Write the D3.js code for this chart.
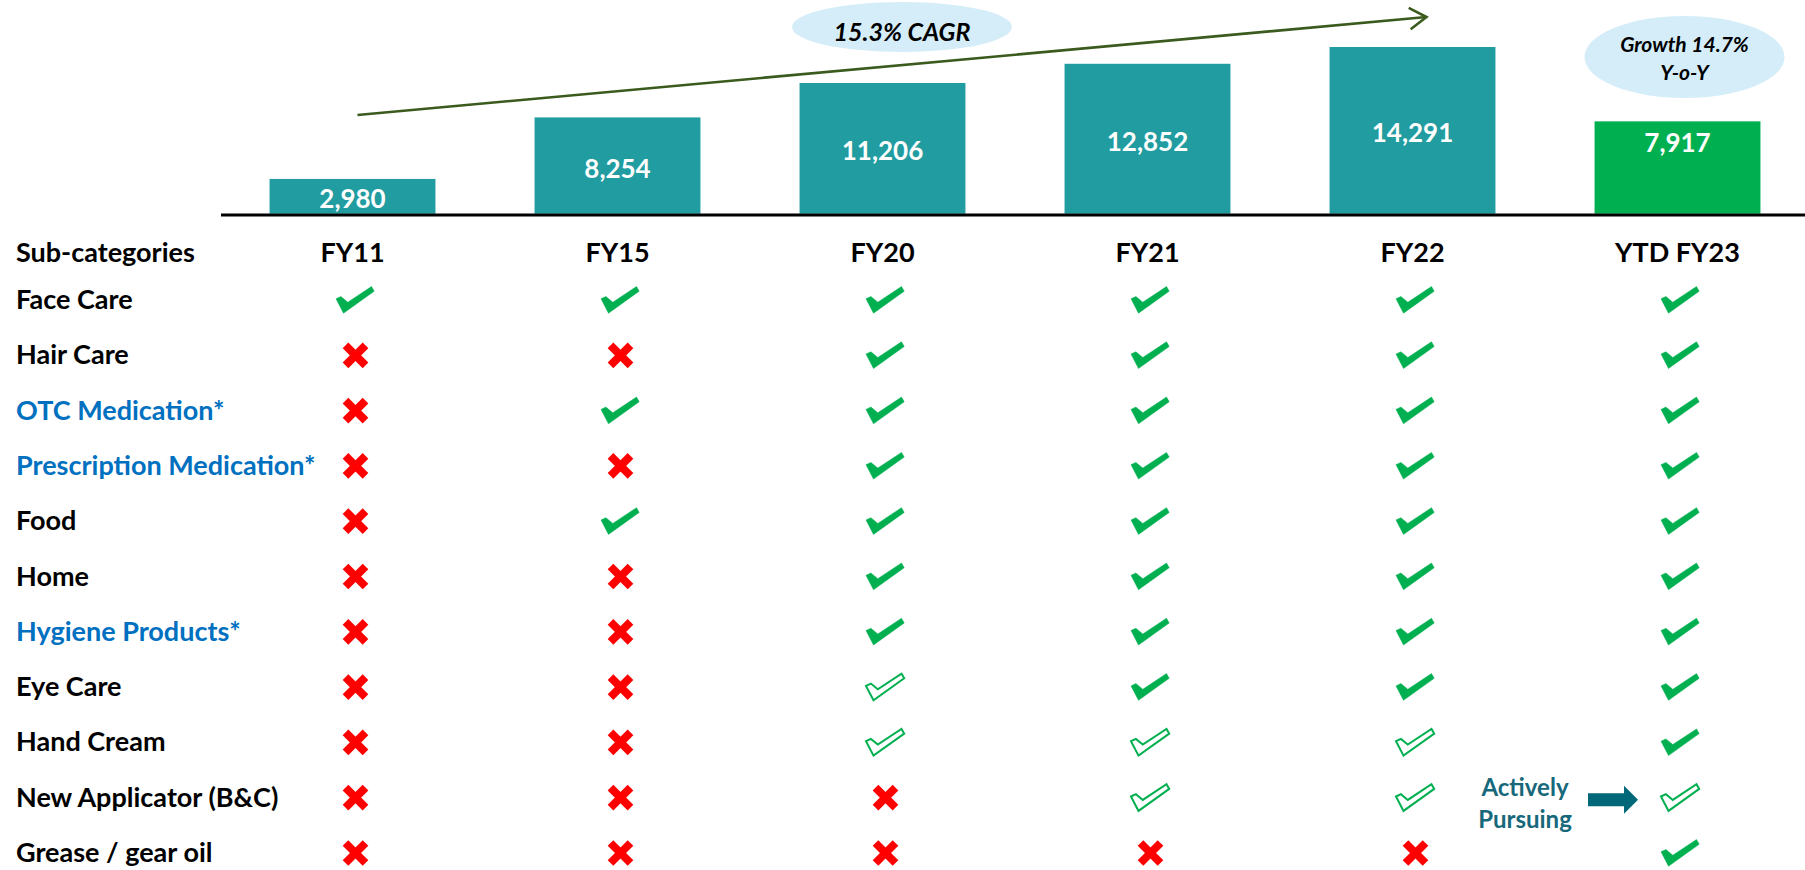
<!DOCTYPE html>
<html>
<head>
<meta charset="utf-8">
<script src="https://cdn.jsdelivr.net/npm/d3@7"></script>
<style>
  body { margin: 0; background: #fff; }
  svg { display: block; font-family: Lato, "Open Sans", sans-serif; font-weight: bold; }
</style>
</head>
<body>
<div id="chart"></div>
<script>
const width = 1805
const height = 870

// data
const years = ['FY11', 'FY15', 'FY20', 'FY21', 'FY22', 'YTD FY23']
const revenue = [2980, 8254, 11206, 12852, 14291, 7917]
const subCategories = ['Face Care', 'Hair Care', 'OTC Medication*', 'Prescription Medication*', 'Food', 'Home',
    'Hygiene Products*', 'Eye Care', 'Hand Cream', 'New Applicator (B&C)', 'Grease / gear oil']
const highlighted = ['OTC Medication*', 'Prescription Medication*', 'Hygiene Products*']
// one letter per year: C = offered, O = in progress (outline tick), X = not offered
const status = [
    'CCCCCC',
    'XXCCCC',
    'XCCCCC',
    'XXCCCC',
    'XCCCCC',
    'XXCCCC',
    'XXCCCC',
    'XXOCCC',
    'XXOOOC',
    'XXXOOO',
    'XXXXXC'
]
const headerLabel = 'Sub-categories'
const cagrLabel = '15.3% CAGR'
const growthLabel = ['Growth 14.7%', 'Y-o-Y']
const pursuingLabel = ['Actively', 'Pursuing']

const colors = {
    bar: '#219ca0',
    ytd: '#00b050',
    tick: '#00b050',
    cross: '#ff0000',
    blue: '#0070c0',
    trend: '#3a5a1e',
    bubble: '#d4edf8',
    pursue: '#17687a',
    pursueArrow: '#006878'
}

let svg = d3.select('div#chart').append('svg').attr('width', width).attr('height', height)

let x = d3.scaleBand().domain(years).range([220, 1810]).paddingInner(0.374).paddingOuter(0.187)
let y = d3.scaleLinear().domain([0, d3.max(revenue)]).range([213.7, 47])
let rowY = d3.scalePoint().domain(subCategories).range([299, 852])
let cx = d => x(d) + x.bandwidth() / 2

// bars
let barGroup = svg.append('g').attr('id', 'barGroup')
let bars = years.map((d, i) => ({year: d, value: revenue[i], last: i === years.length - 1}))
barGroup.selectAll('rect').data(bars).join('rect')
    .attr('x', d => x(d.year))
    .attr('y', d => y(d.value))
    .attr('width', x.bandwidth())
    .attr('height', d => y(0) - y(d.value))
    .attr('fill', d => d.last ? colors.ytd : colors.bar)

barGroup.selectAll('text').data(bars).join('text')
    .attr('x', d => cx(d.year))
    .attr('y', d => d.last ? y(d.value) + 31 : (y(d.value) + y(0)) / 2 + 12)
    .attr('text-anchor', 'middle')
    .attr('fill', '#fff')
    .style('font-size', '26px')
    .text(d => d3.format(',')(d.value))

// baseline
svg.append('line')
    .attr('x1', 221).attr('x2', width)
    .attr('y1', y(0) + 1.2).attr('y2', y(0) + 1.2)
    .attr('stroke', '#000').attr('stroke-width', 3)

// CAGR trend arrow
let trendStart = [cx('FY11') + 5, 115]
let trendEnd = [cx('FY22') + 14, 17]
let trend = svg.append('g').attr('id', 'trend')
trend.append('line')
    .attr('x1', trendStart[0]).attr('y1', trendStart[1])
    .attr('x2', trendEnd[0]).attr('y2', trendEnd[1])
    .attr('stroke', colors.trend).attr('stroke-width', 2.6)
let ang = Math.atan2(trendEnd[1] - trendStart[1], trendEnd[0] - trendStart[0])
let head = [ang + Math.PI * 0.82, ang - Math.PI * 0.82].map(a => [trendEnd[0] + 20 * Math.cos(a), trendEnd[1] + 20 * Math.sin(a)])
trend.append('path')
    .attr('d', d3.line()([head[0], trendEnd, head[1]]))
    .attr('fill', 'none').attr('stroke', colors.trend).attr('stroke-width', 2.6)

// bubbles
svg.append('ellipse').attr('cx', 902).attr('cy', 27).attr('rx', 110).attr('ry', 25).attr('fill', colors.bubble)
svg.append('text').attr('x', 902).attr('y', 40.5).attr('text-anchor', 'middle')
    .style('font-size', '25px').style('font-style', 'italic').text(cagrLabel)

svg.append('ellipse').attr('cx', cx('YTD FY23') + 7).attr('cy', 57).attr('rx', 100).attr('ry', 41).attr('fill', colors.bubble)
svg.append('g').selectAll('text').data(growthLabel).join('text')
    .attr('x', cx('YTD FY23') + 7)
    .attr('y', (d, i) => 52 + i * 28)
    .attr('text-anchor', 'middle')
    .style('font-size', '21px').style('font-style', 'italic')
    .text(d => d)

// header row
let headerY = 262
svg.append('text').attr('x', 16).attr('y', headerY).style('font-size', '27px').text(headerLabel)
svg.append('g').selectAll('text').data(years).join('text')
    .attr('x', d => cx(d)).attr('y', headerY)
    .attr('text-anchor', 'middle').style('font-size', '27px')
    .text(d => d)

// row labels
svg.append('g').selectAll('text').data(subCategories).join('text')
    .attr('x', 16).attr('y', d => rowY(d) + 10)
    .attr('fill', d => highlighted.includes(d) ? colors.blue : '#000')
    .style('font-size', '27px')
    .text(d => d)

// status icons
const tickShape = [[0, 12.3], [4.9, 10], [11.8, 15.7], [35.5, 0], [38.2, 4.7], [7.5, 26.7]]
    .map(p => [p[0] - 19.5, p[1] - 13.5])
let cells = []
subCategories.forEach((s, r) => {
    years.forEach((yr, c) => cells.push({row: s, year: yr, code: status[r][c]}))
})
let icons = svg.append('g').attr('id', 'icons').selectAll('g').data(cells).join('g')
    .attr('transform', d => `translate(${cx(d.year) + 3}, ${rowY(d.row) + 1})`)

icons.filter(d => d.code !== 'X').append('path')
    .attr('d', d3.line().curve(d3.curveLinearClosed)(tickShape))
    .attr('fill', d => d.code === 'C' ? colors.tick : '#fff')
    .attr('stroke', colors.tick)
    .attr('stroke-width', d => d.code === 'C' ? 0.5 : 2)
    .attr('stroke-linejoin', 'miter')

let cross = icons.filter(d => d.code === 'X')
cross.append('line').attr('x1', -10).attr('y1', -10).attr('x2', 10).attr('y2', 10)
    .attr('stroke', colors.cross).attr('stroke-width', 8)
cross.append('line').attr('x1', -10).attr('y1', 10).attr('x2', 10).attr('y2', -10)
    .attr('stroke', colors.cross).attr('stroke-width', 8)

// "Actively Pursuing" note
let noteRow = rowY('New Applicator (B&C)')
svg.append('g').selectAll('text').data(pursuingLabel).join('text')
    .attr('x', 1525).attr('y', (d, i) => noteRow - 1 + i * 32)
    .attr('text-anchor', 'middle').attr('fill', colors.pursue)
    .style('font-size', '24px')
    .text(d => d)
let ax = 1588, ay = noteRow + 3
svg.append('path')
    .attr('d', d3.line().curve(d3.curveLinearClosed)([
        [ax, ay - 6.5], [ax + 36, ay - 6.5], [ax + 36, ay - 14], [ax + 50, ay],
        [ax + 36, ay + 14], [ax + 36, ay + 6.5], [ax, ay + 6.5]
    ]))
    .attr('fill', colors.pursueArrow)
</script>
</body>
</html>
